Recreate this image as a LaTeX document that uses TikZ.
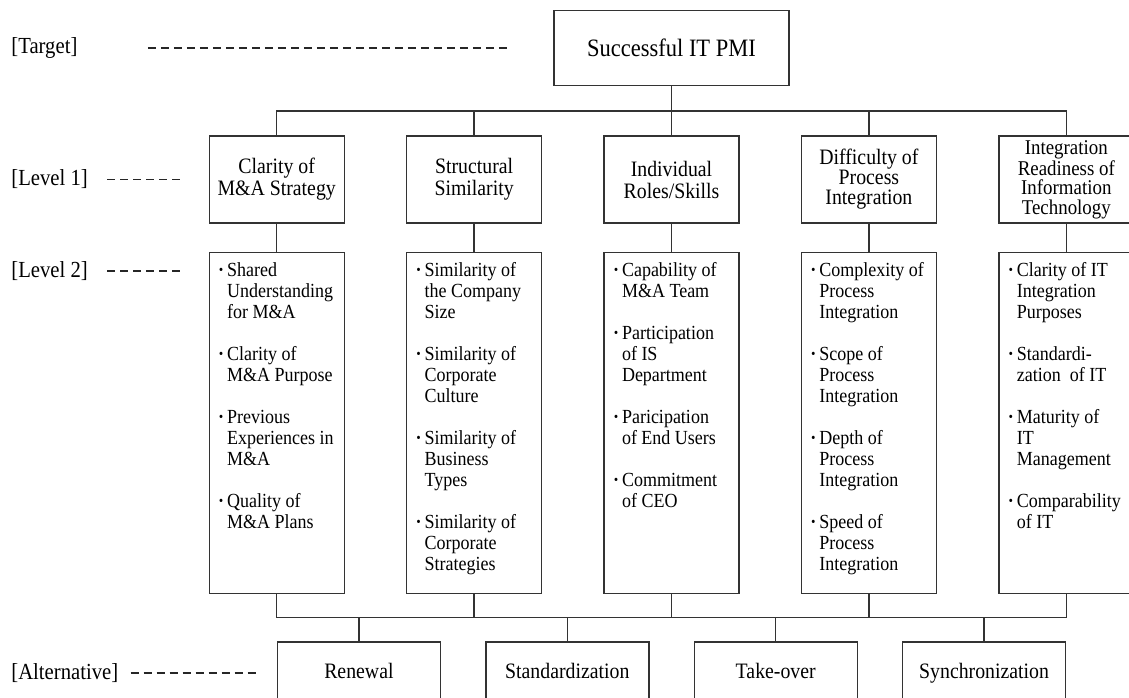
\documentclass[tikz,border=0pt]{standalone}
\usepackage{fontspec}
\setmainfont[FakeStretch=0.9]{Liberation Serif}
\usepackage{tikz}
\usetikzlibrary{positioning}

\newcommand{\bul}{\makebox[4.5pt][l]{\textbf{·}}}
\newcommand{\ind}{\hspace*{4.5pt}}
\newcommand{\itemlist}[1]{\parbox[c][170.5pt][t]{58.5pt}{\raggedright\vspace*{5pt}#1}}

\begin{document}
\begin{tikzpicture}[
    topnode/.style={rectangle, align=center, draw=black!80, line width=0.7pt, minimum width=117.5pt, minimum height=37.5pt, font=\fontsize{12.5}{14}\selectfont},
    levelnode/.style={rectangle, align=center, draw=black!80, line width=0.7pt, minimum width=67.5pt, minimum height=43.5pt, inner sep=0pt, font=\fontsize{11}{11}\selectfont},
    itemnode/.style={rectangle, draw=black!80, line width=0.7pt, inner xsep=4.5pt, inner ysep=0pt, font=\fontsize{10}{10.5}\selectfont},
    altnode/.style={rectangle, align=center, draw=black!80, line width=0.7pt, minimum width=81.5pt, minimum height=31pt, text height=8pt, text depth=2.5pt, font=\fontsize{11}{13}\selectfont},
    labelnode/.style={anchor=west, inner sep=0pt, font=\fontsize{11.5}{13}\selectfont},
    link/.style={draw=black!80, line width=0.7pt},
    guideline/.style={draw=black!85, line width=0.75pt, dash pattern=on 4pt off 2.5pt},
    ]

    \useasboundingbox (0,0) rectangle (564.5pt,-348.5pt);

    %Nodes
    \node[levelnode] (individual) at (335.75pt,-89.75pt)        {Individual\\Roles/Skills};
    \node[levelnode] (structural)  [left=30.5pt of individual]  {Structural\\Similarity};
    \node[levelnode] (clarity)     [left=30.5pt of structural]  {Clarity of\\M\&A Strategy};
    \node[levelnode, font=\fontsize{11}{10}\selectfont] (difficulty)  [right=30.5pt of individual] {Difficulty of\\Process\\Integration};
    \node[levelnode, font=\fontsize{10.5}{9.6}\selectfont]  (readiness)   [right=30.5pt of difficulty] {Integration\\Readiness of\\Information\\Technology};

    \node[topnode] (pmi) [above=24.5pt of individual] {Successful IT PMI};

    \node[itemnode] (clarityitems) [below=14pt of clarity] {\itemlist{%
        \bul Shared\\ \ind Understanding\\ \ind for M\&A\\[10.5pt]
        \bul Clarity of\\ \ind M\&A Purpose\\[10.5pt]
        \bul Previous\\ \ind Experiences in\\ \ind M\&A\\[10.5pt]
        \bul Quality of\\ \ind M\&A Plans}};
    \node[itemnode] (structuralitems) [below=14pt of structural] {\itemlist{%
        \bul Similarity of\\ \ind the Company\\ \ind Size\\[10.5pt]
        \bul Similarity of\\ \ind Corporate\\ \ind Culture\\[10.5pt]
        \bul Similarity of\\ \ind Business\\ \ind Types\\[10.5pt]
        \bul Similarity of\\ \ind Corporate\\ \ind Strategies}};
    \node[itemnode] (individualitems) [below=14pt of individual] {\itemlist{%
        \bul Capability of\\ \ind M\&A Team\\[10.5pt]
        \bul Participation\\ \ind of IS\\ \ind Department\\[10.5pt]
        \bul Paricipation\\ \ind of End Users\\[10.5pt]
        \bul Commitment\\ \ind of CEO}};
    \node[itemnode] (difficultyitems) [below=14pt of difficulty] {\itemlist{%
        \bul Complexity of\\ \ind Process\\ \ind Integration\\[10.5pt]
        \bul Scope of\\ \ind Process\\ \ind Integration\\[10.5pt]
        \bul Depth of\\ \ind Process\\ \ind Integration\\[10.5pt]
        \bul Speed of\\ \ind Process\\ \ind Integration}};
    \node[itemnode] (readinessitems) [below=14pt of readiness] {\itemlist{%
        \bul Clarity of IT\\ \ind Integration\\ \ind Purposes\\[10.5pt]
        \bul Standardi-\\ \ind zation\ \ of IT\\[10.5pt]
        \bul Maturity of\\ \ind IT\\ \ind Management\\[10.5pt]
        \bul Comparability\\ \ind of IT}};

    \node[altnode] (standardization) [below left=23.5pt and 11pt of individualitems.south]  {Standardization};
    \node[altnode] (takeover)        [below right=23.5pt and 11pt of individualitems.south] {Take-over};
    \node[altnode] (renewal)         [left=22pt of standardization]  {Renewal};
    \node[altnode] (synchronization) [right=22pt of takeover]        {Synchronization};

    \coordinate (leftmargin) at (5.5pt,0);
    \node[labelnode] (target)      at (leftmargin |- pmi)      {[Target]};
    \node[labelnode] (levelone)    at (leftmargin |- clarity)  {[Level 1]};
    \node[labelnode] (leveltwo)    at (5.5pt,-135.5pt)         {[Level 2]};
    \node[labelnode] (alternative) at (leftmargin |- renewal)  {[Alternative]};

    \coordinate [below=12.25pt of pmi.south] (topbus);
    \coordinate [below=11.75pt of individualitems.south] (bottombus);

    %Lines
    \draw[link] (pmi.south) -- (individual.north);
    \draw[link] (clarity.north) |- (topbus) -| (readiness.north);
    \draw[link] (structural.north) -- (structural.north |- topbus);
    \draw[link] (difficulty.north) -- (difficulty.north |- topbus);

    \draw[link] (clarity.south) -- (clarityitems.north);
    \draw[link] (structural.south) -- (structuralitems.north);
    \draw[link] (individual.south) -- (individualitems.north);
    \draw[link] (difficulty.south) -- (difficultyitems.north);
    \draw[link] (readiness.south) -- (readinessitems.north);

    \draw[link] (clarityitems.south) |- (bottombus) -| (readinessitems.south);
    \draw[link] (structuralitems.south) -- (structuralitems.south |- bottombus);
    \draw[link] (individualitems.south) -- (bottombus);
    \draw[link] (difficultyitems.south) -- (difficultyitems.south |- bottombus);

    \draw[link] (renewal.north) -- (renewal.north |- bottombus);
    \draw[link] (standardization.north) -- (standardization.north |- bottombus);
    \draw[link] (takeover.north) -- (takeover.north |- bottombus);
    \draw[link] (synchronization.north) -- (synchronization.north |- bottombus);

    \draw[guideline] ([xshift=35pt]target.east) -- +(180.5pt,0);
    \draw[guideline] ([xshift=9.5pt]levelone.east) -- +(37pt,0);
    \draw[guideline] ([xshift=9.5pt]leveltwo.east) -- +(37pt,0);
    \draw[guideline] ([xshift=6pt]alternative.east) -- +(62.5pt,0);

\end{tikzpicture}
\end{document}
